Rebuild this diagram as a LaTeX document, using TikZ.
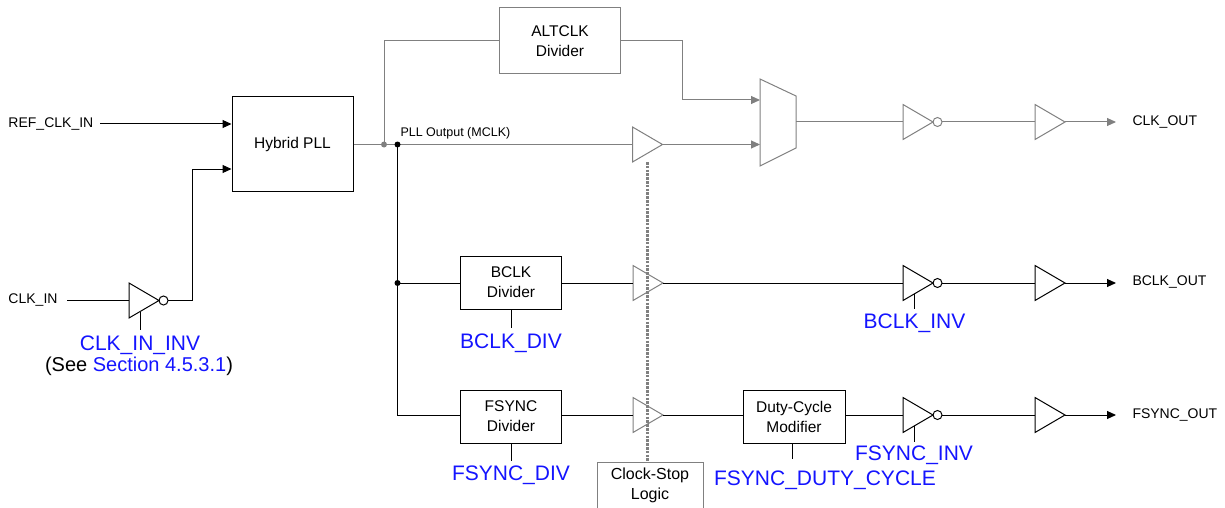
\documentclass[tikz,border=0pt]{standalone}
\usepackage{fontspec}
\setmainfont{Liberation Sans}
\usetikzlibrary{arrows.meta}
\definecolor{lg}{RGB}{128,128,128}
\definecolor{lblue}{RGB}{20,20,255}
\newcommand\mybuf[4]{%
  \coordinate (#1-in) at (#2,#3);
  \coordinate (#1-out) at ({#2+30},#3);
  \draw[#4] (#2,{#3-17.5}) -- ({#2+30},#3) -- (#2,{#3+17.5}) -- cycle;
}
\newcommand\myinv[4]{%
  \coordinate (#1-in) at (#2,#3);
  \coordinate (#1-out) at ({#2+39},#3);
  \coordinate (#1-bot) at ({#2+11},{#3+17.5-11*17.5/30});
  \draw[#4] (#2,{#3-17.5}) -- ({#2+30},#3) -- (#2,{#3+17.5}) -- cycle;
  \draw[#4] ({#2+34.5},#3) circle[radius=4.5];
}
\begin{document}
\begin{tikzpicture}[x=1pt,y=-1pt,line width=1pt,
  box/.style={draw,minimum width=#1,align=center,font=\fontsize{15.5}{20}\selectfont,inner sep=0pt},
  box/.default=101,
  sig/.style={font=\fontsize{14}{16}\selectfont,inner sep=0pt},
  reg/.style={font=\fontsize{21}{24}\selectfont,text=lblue,inner sep=0pt},
  arr/.style={-{Triangle[length=9pt,width=8pt]}},
  dot/.style={circle,fill,inner sep=0pt,minimum size=6pt}]
\useasboundingbox (0,0) rectangle (1225,508);

% boxes
\node[box=121,minimum height=94] (pll) at (292.5,144) {Hybrid PLL};
\node[box=121,minimum height=66,draw=lg] (alt) at (560,41) {ALTCLK\\Divider};
\node[box=101,minimum height=53] (bdiv) at (511,282.5) {BCLK\\Divider};
\node[box=101,minimum height=53] (fdiv) at (511,416.5) {FSYNC\\Divider};
\node[box=102,minimum height=53] (duty) at (794,416.5) {Duty-Cycle\\Modifier};
\node[box=106,minimum height=46,draw=lg,font=\fontsize{16}{20}\selectfont] (cstop) at (650,485) {Clock-Stop\\Logic};

% signal names
\node[sig,anchor=west] (refin) at (8,124) {REF\_CLK\_IN};
\node[sig,anchor=west] (clkin) at (8,300) {CLK\_IN};
\node[sig,anchor=west] (clkout) at (1132,122) {CLK\_OUT};
\node[sig,anchor=west] (bout) at (1132,282.5) {BCLK\_OUT};
\node[sig,anchor=west] (fout) at (1132,415) {FSYNC\_OUT};
\node[font=\fontsize{12.5}{14}\selectfont,inner sep=0pt,anchor=west] (mclk) at (400,133) {PLL Output (MCLK)};

% register labels
\node[reg] (inv0l) at (140,345) {CLK\_IN\_INV};
\node[font=\fontsize{20}{24}\selectfont,inner sep=0pt] (see) at (139,366) {(See \textcolor{lblue}{Section 4.5.3.1})};
\node[reg] (bdivl) at (511,343) {BCLK\_DIV};
\node[reg] (fdivl) at (511,475) {FSYNC\_DIV};
\node[reg] (binvl) at (914.5,323) {BCLK\_INV};
\node[reg] (finvl) at (914,455) {FSYNC\_INV};
\node[reg] (dutyl) at (825,480) {FSYNC\_DUTY\_CYCLE};

% gates
\myinv{cinv}{129}{300.5}{black}
\mybuf{gm}{632.5}{144.5}{lg}
\mybuf{gb}{633}{283}{lg}
\mybuf{gf}{633}{415}{lg}
\myinv{oinv}{903}{122}{lg}
\mybuf{obuf}{1035}{122}{lg}
\myinv{binv}{903}{283}{black}
\mybuf{bbuf}{1035}{283}{black}
\myinv{finv}{903}{415}{black}
\mybuf{fbuf}{1035}{415}{black}

% mux
\draw[lg] (760,79) -- (796,96) -- (796,148) -- (760,166) -- cycle;
\coordinate (mux-a) at (760,100);
\coordinate (mux-b) at (760,144.5);
\coordinate (mux-o) at (796,122);

% dotted clock-stop line
\coordinate (ctop) at (647.5,162);
\draw[lg,line width=2.2pt,dash pattern=on 2.6pt off 1.2pt] (ctop) -- (ctop |- cstop.north);

% input side
\coordinate (refs) at (100,124);
\draw[arr] (refs) -- (pll.west |- refs);
\coordinate (clks) at (67,300.5);
\draw (clks) -- (cinv-in);
\coordinate (cbend) at (192,169);
\draw[arr] (cinv-out) -| (cbend) -- (pll.west |- cbend);
\draw (cinv-bot) -- ++(0,18);

% PLL output
\coordinate (gdot) at (384,144.5);
\coordinate (bdot) at (397.5,144.5);
\coordinate (altb) at (682,100);
\draw[lg] (pll.east |- gdot) -- (gm-in);
\draw[lg] (gdot) |- (alt.west);
\draw[lg,arr] (alt.east) -| (altb) -- (mux-a);
\draw[lg,arr] (gm-out) -- (mux-b);
\draw[lg] (mux-o) -- (oinv-in);
\draw[lg] (oinv-out) -- (obuf-in);
\coordinate (coe) at (1116,122);
\draw[lg,arr] (obuf-out) -- (coe);
\node[dot,fill=lg] (gd) at (gdot) {};

% BCLK / FSYNC
\coordinate (bj) at (397.5,283);
\coordinate (fj) at (397.5,415);
\draw (bdot) -- (fj) -- (fdiv.west |- fj);
\draw (bj) -- (bdiv.west |- bj);
\node[dot] (bd1) at (bdot) {};
\node[dot] (bd2) at (bj) {};
\draw (bdiv.east |- gb-in) -- (gb-in);
\draw (gb-out) -- (binv-in);
\draw (binv-out) -- (bbuf-in);
\coordinate (boe) at (1116,283);
\draw[arr] (bbuf-out) -- (boe);
\draw (fdiv.east |- gf-in) -- (gf-in);
\draw (gf-out) -- (duty.west |- gf-out);
\draw (duty.east |- finv-in) -- (finv-in);
\draw (finv-out) -- (fbuf-in);
\coordinate (foe) at (1116,415);
\draw[arr] (fbuf-out) -- (foe);

% stubs
\coordinate (dstub) at (792,443);
\draw (bdiv.south) -- ++(0,18);
\draw (fdiv.south) -- ++(0,17);
\draw (dstub) -- ++(0,16);
\draw (binv-bot) -- ++(0,15);
\draw (finv-bot) -- ++(0,16);
\end{tikzpicture}
\end{document}
